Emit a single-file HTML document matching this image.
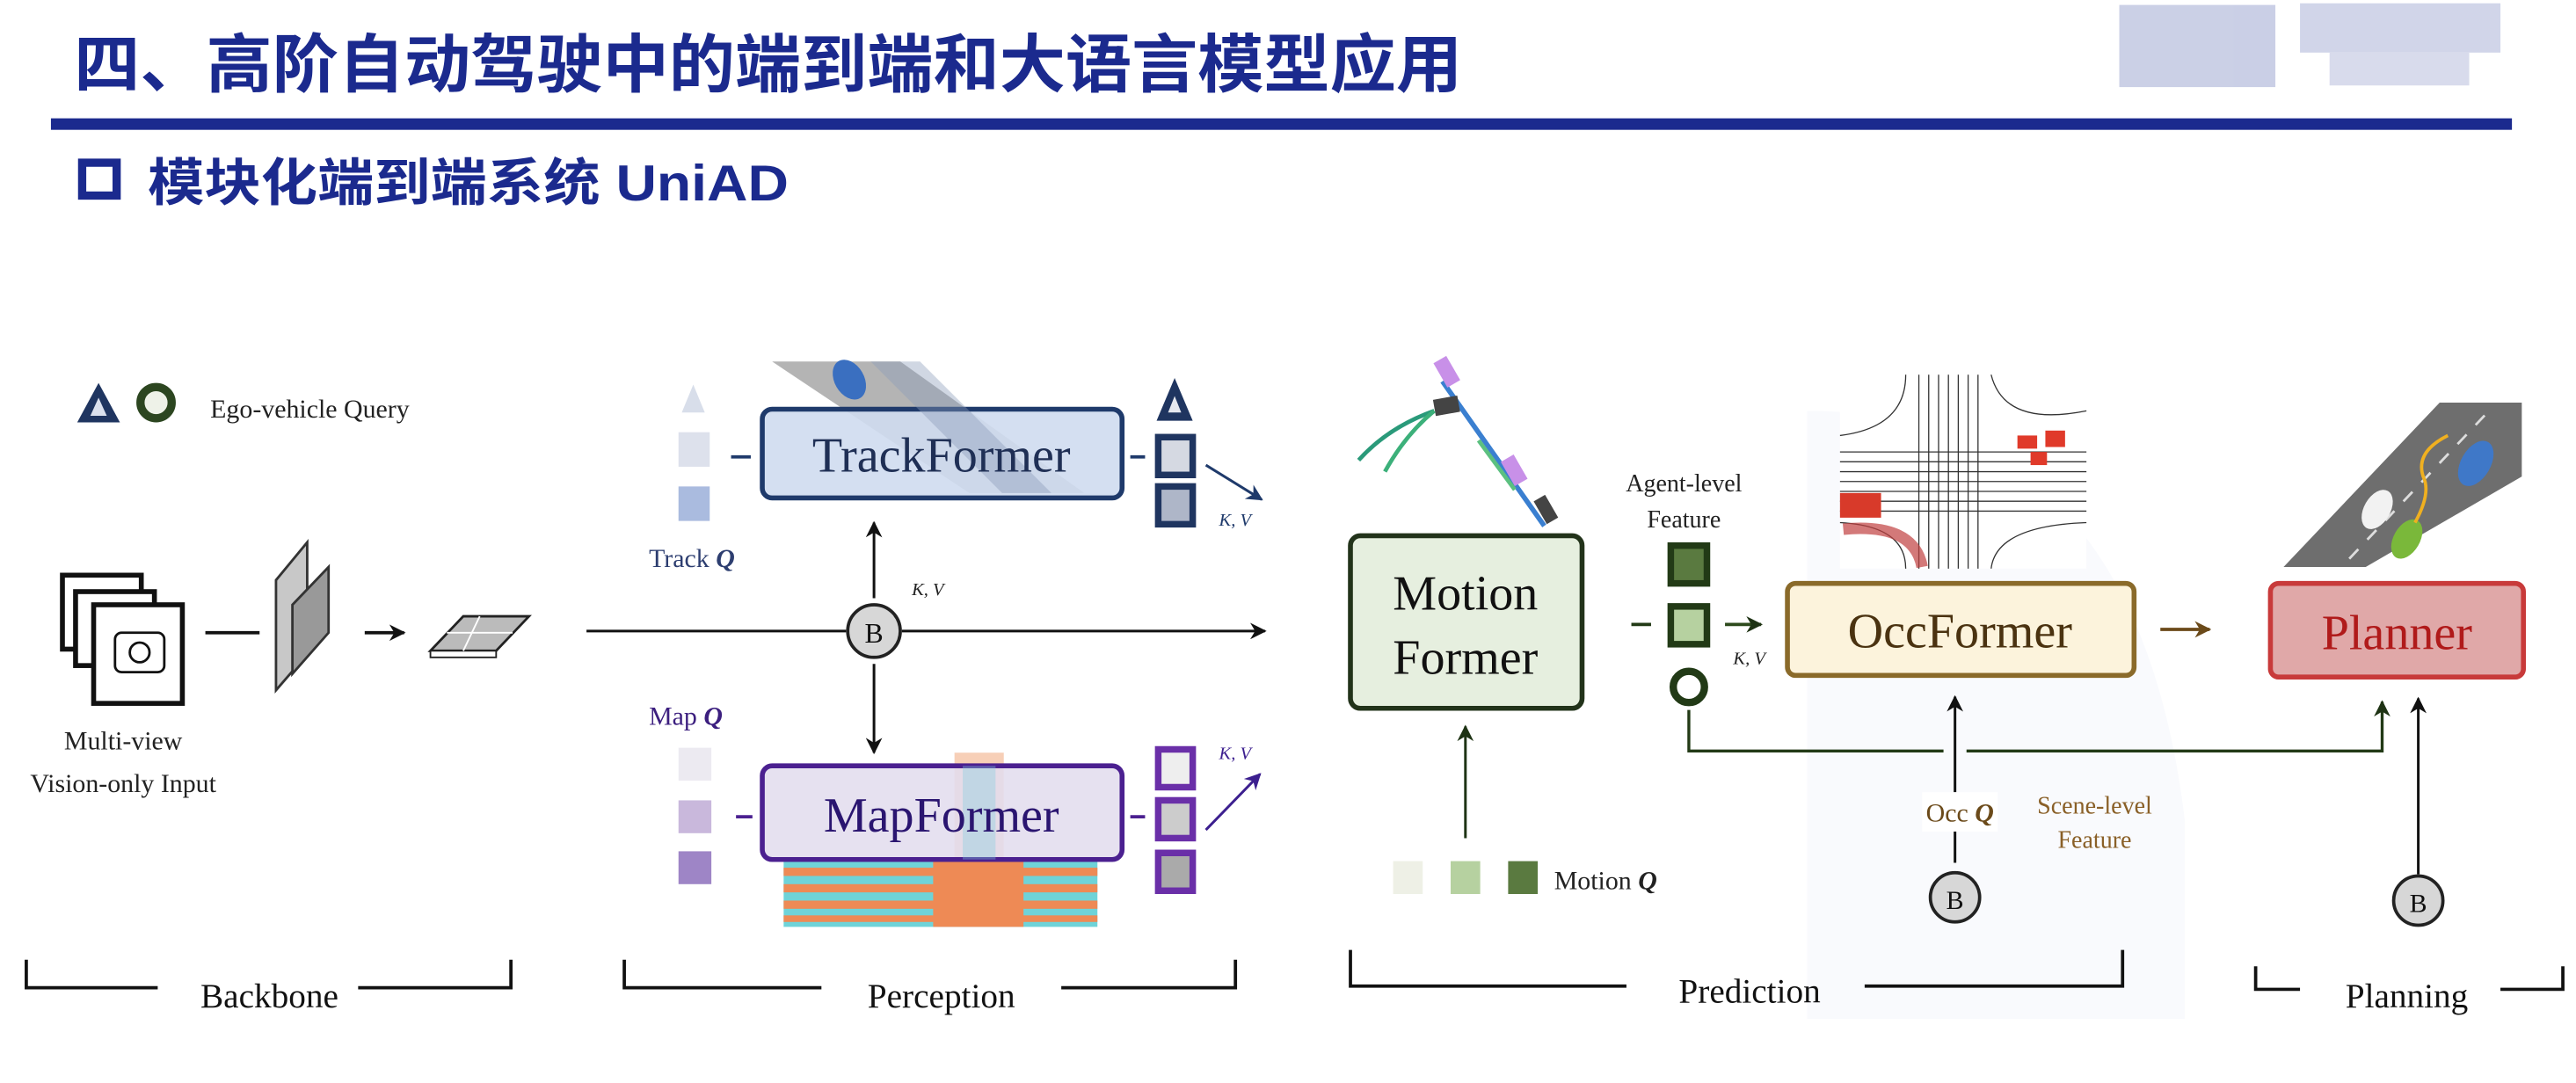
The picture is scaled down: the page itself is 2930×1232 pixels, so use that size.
<!DOCTYPE html>
<html><head><meta charset="utf-8"><style>
html,body{margin:0;padding:0;background:#fff;}
svg{display:block;}
.s{font-family:"Liberation Serif",serif;}
</style></head><body>
<svg width="2930" height="1232" viewBox="0 0 1568 659" preserveAspectRatio="none" xmlns="http://www.w3.org/2000/svg">
<defs>
<marker id="ab" markerWidth="10" markerHeight="10" refX="9" refY="5" orient="auto" markerUnits="userSpaceOnUse"><path d="M0,0 L10,5 L0,10 L3,5 Z" fill="#111"/></marker>
<marker id="an" markerWidth="10" markerHeight="10" refX="9" refY="5" orient="auto" markerUnits="userSpaceOnUse"><path d="M0,0 L10,5 L0,10 L3,5 Z" fill="#1f3a6b"/></marker>
<marker id="ap" markerWidth="10" markerHeight="10" refX="9" refY="5" orient="auto" markerUnits="userSpaceOnUse"><path d="M0,0 L10,5 L0,10 L3,5 Z" fill="#3c1f8f"/></marker>
<marker id="ag" markerWidth="10" markerHeight="10" refX="9" refY="5" orient="auto" markerUnits="userSpaceOnUse"><path d="M0,0 L10,5 L0,10 L3,5 Z" fill="#1e3314"/></marker>
<marker id="ao" markerWidth="10" markerHeight="10" refX="9" refY="5" orient="auto" markerUnits="userSpaceOnUse"><path d="M0,0 L10,5 L0,10 L3,5 Z" fill="#6b4a1a"/></marker>
</defs>
<!-- faint background shapes -->
<path d="M1100 250 Q1300 250 1330 500 L1330 620 L1100 620 Z" fill="#f9fafd"/>
<!-- header -->
<text x="45" y="53" font-family="'Liberation Sans','Noto Sans CJK SC',sans-serif" font-weight="bold" font-size="39" fill="#1b2a8e" textLength="845" lengthAdjust="spacingAndGlyphs">四、高阶自动驾驶中的端到端和大语言模型应用</text>
<g opacity="0.45">
<rect x="1290" y="3" width="95" height="50" fill="#8c96c8"/><rect x="1400" y="2" width="122" height="30" fill="#9aa3d0"/><rect x="1418" y="32" width="85" height="20" fill="#a9b0d6"/>
</g>
<rect x="31" y="72" width="1498" height="7" fill="#1b2a8e"/>
<rect x="50" y="99" width="21" height="20" fill="none" stroke="#1b2a8e" stroke-width="5"/>
<text x="90" y="122" font-family="'Liberation Sans','Noto Sans CJK SC',sans-serif" font-weight="bold" font-size="31" fill="#1b2a8e" textLength="390" lengthAdjust="spacingAndGlyphs">模块化端到端系统 UniAD</text>
<!-- ego query -->
<path d="M47 257 L60 233 L73 257 Z" fill="#1f3560"/><path d="M55 253 L60 242 L65 253 Z" fill="#dbe1ee"/>
<circle cx="95" cy="245" r="9.5" fill="#eef2e8" stroke="#2c4620" stroke-width="5"/>
<text x="128" y="254" class="s" font-size="16" fill="#222">Ego-vehicle Query</text>
<!-- camera stack -->
<rect x="38" y="350" width="48" height="45" fill="#fff" stroke="#111" stroke-width="3"/>
<rect x="46" y="360" width="48" height="45" fill="#fff" stroke="#111" stroke-width="3"/>
<rect x="57" y="368" width="54" height="60" fill="#fff" stroke="#111" stroke-width="3"/>
<rect x="70" y="385" width="30" height="24" rx="4" fill="none" stroke="#111" stroke-width="1.5"/>
<circle cx="85" cy="397" r="6" fill="none" stroke="#111" stroke-width="1.5"/>
<text x="75" y="456" class="s" font-size="16" fill="#222" text-anchor="middle">Multi-view</text>
<text x="75" y="482" class="s" font-size="16" fill="#222" text-anchor="middle">Vision-only Input</text>
<line x1="125" y1="385" x2="158" y2="385" stroke="#111" stroke-width="2"/>
<path d="M168 353 L187 330 L187 398 L168 420 Z" fill="#c8c8c8" stroke="#333" stroke-width="1.5"/>
<path d="M178 368 L200 345 L200 385 L178 410 Z" fill="#999" stroke="#333" stroke-width="1.5"/>
<line x1="222" y1="385" x2="246" y2="385" stroke="#111" stroke-width="2" marker-end="url(#ab)"/>
<path d="M262 396 L282 375 L322 375 L302 396 Z" fill="#bbb" stroke="#222" stroke-width="1.5"/>
<path d="M262 396 L302 396 L302 400 L262 400 Z" fill="#fff" stroke="#222" stroke-width="1"/>
<line x1="272" y1="385" x2="312" y2="385" stroke="#fff" stroke-width="1"/><line x1="292" y1="375" x2="282" y2="396" stroke="#fff" stroke-width="1"/>
<!-- main line -->
<line x1="357" y1="384" x2="515" y2="384" stroke="#111" stroke-width="1.6"/>
<line x1="549" y1="384" x2="770" y2="384" stroke="#111" stroke-width="1.6" marker-end="url(#ab)"/>
<circle cx="532" cy="384" r="16" fill="#d7d7d7" stroke="#222" stroke-width="2"/>
<text x="532" y="391" class="s" font-size="17" text-anchor="middle" fill="#111">B</text>
<line x1="532" y1="364" x2="532" y2="318" stroke="#111" stroke-width="1.6" marker-end="url(#ab)"/>
<line x1="532" y1="404" x2="532" y2="458" stroke="#111" stroke-width="1.6" marker-end="url(#ab)"/>
<text x="555" y="362" class="s" font-size="11" font-style="italic" fill="#222">K, V</text>
<!-- TrackFormer -->
<path d="M470 220 L548 220 L660 300 L590 300 Z" fill="#777" opacity="0.55"/>
<rect x="464" y="249" width="219" height="54" rx="6" fill="#cfdcef" fill-opacity="0.9" stroke="#1f3a6b" stroke-width="3"/>
<path d="M530 220 L560 220 L640 300 L610 300 Z" fill="#8a9ab8" opacity="0.4"/>
<ellipse cx="517" cy="231" rx="9" ry="13" fill="#3a6fc0" transform="rotate(-30 517 231)"/>
<text x="573" y="287" class="s" font-size="30" fill="#1f2f55" text-anchor="middle">TrackFormer</text>
<path d="M415 251 L422 234 L429 251 Z" fill="#d8deea"/>
<rect x="413" y="263" width="19" height="21" fill="#dde1ec"/>
<rect x="413" y="296" width="19" height="21" fill="#aabbdf"/>
<line x1="445" y1="278" x2="457" y2="278" stroke="#1f3a6b" stroke-width="2"/>
<path d="M704 256 L715 230 L726 256 Z" fill="#1f3560"/><path d="M711 251 L715 241 L719 251 Z" fill="#e5e8ef"/>
<rect x="705" y="266" width="21" height="23" fill="#d5d9e2" stroke="#1f3560" stroke-width="4"/>
<rect x="705" y="296" width="21" height="23" fill="#aeb6c8" stroke="#1f3560" stroke-width="4"/>
<line x1="688" y1="278" x2="697" y2="278" stroke="#1f3a6b" stroke-width="2"/>
<line x1="734" y1="283" x2="768" y2="304" stroke="#1f3a6b" stroke-width="1.6" marker-end="url(#an)"/>
<text x="742" y="320" class="s" font-size="11" font-style="italic" fill="#1f3a6b">K, V</text>
<text x="395" y="345" class="s" font-size="16" fill="#2d3e70">Track <tspan font-style="italic" font-weight="bold">Q</tspan></text>
<!-- MapFormer -->
<text x="395" y="441" class="s" font-size="16" fill="#3c1f7f">Map <tspan font-style="italic" font-weight="bold">Q</tspan></text>
<rect x="477" y="524" width="191" height="40" fill="#6fd3d8"/>
<g fill="#ee8a55">
<rect x="477" y="528" width="100" height="5"/><rect x="477" y="538" width="100" height="5"/><rect x="477" y="548" width="100" height="5"/><rect x="477" y="557" width="100" height="4"/>
<rect x="615" y="528" width="53" height="5"/><rect x="615" y="538" width="53" height="5"/><rect x="615" y="548" width="53" height="5"/><rect x="615" y="557" width="53" height="4"/>
<rect x="568" y="524" width="55" height="40"/>
</g>
<rect x="581" y="458" width="30" height="66" fill="#f0a070" opacity="0.5"/>
<rect x="464" y="466" width="219" height="57" rx="6" fill="#e2ddee" fill-opacity="0.88" stroke="#4b2090" stroke-width="3"/>
<rect x="586" y="466" width="20" height="57" fill="#7fcfe0" opacity="0.35"/>
<text x="573" y="506" class="s" font-size="30" fill="#2a1570" text-anchor="middle">MapFormer</text>
<rect x="413" y="455" width="20" height="20" fill="#eceaf1"/>
<rect x="413" y="487" width="20" height="20" fill="#c9b8dc"/>
<rect x="413" y="518" width="20" height="20" fill="#9e85c6"/>
<line x1="448" y1="497" x2="458" y2="497" stroke="#4b2090" stroke-width="2"/>
<rect x="705" y="456" width="21" height="23" fill="#eee" stroke="#6a2fa8" stroke-width="4"/>
<rect x="705" y="487" width="21" height="23" fill="#ccc" stroke="#6a2fa8" stroke-width="4"/>
<rect x="705" y="519" width="21" height="23" fill="#aaa" stroke="#6a2fa8" stroke-width="4"/>
<line x1="688" y1="497" x2="697" y2="497" stroke="#4b2090" stroke-width="2"/>
<line x1="734" y1="505" x2="767" y2="471" stroke="#3c1f8f" stroke-width="1.6" marker-end="url(#ap)"/>
<text x="742" y="462" class="s" font-size="11" font-style="italic" fill="#3c1f8f">K, V</text>
<!-- brackets -->
<g stroke="#111" stroke-width="2" fill="none">
<path d="M16 584 L16 601 L96 601"/><path d="M218 601 L311 601 L311 584"/>
<path d="M380 584 L380 601 L500 601"/><path d="M646 601 L752 601 L752 584"/>
<path d="M822 578 L822 600 L990 600"/><path d="M1135 600 L1292 600 L1292 578"/>
<path d="M1373 588 L1373 602 L1400 602"/><path d="M1522 602 L1560 602 L1560 588"/>
</g>
<text x="164" y="613" class="s" font-size="21" fill="#111" text-anchor="middle">Backbone</text>
<text x="573" y="613" class="s" font-size="21" fill="#111" text-anchor="middle">Perception</text>
<text x="1065" y="610" class="s" font-size="21" fill="#111" text-anchor="middle">Prediction</text>
<text x="1465" y="613" class="s" font-size="21" fill="#111" text-anchor="middle">Planning</text>
<!-- Motion trajectories -->
<path d="M878 232 L940 320" stroke="#3a7fd0" stroke-width="3" fill="none"/>
<rect x="876" y="218" width="9" height="17" fill="#c890e8" transform="rotate(-30 880 226)"/>
<rect x="917" y="278" width="9" height="17" fill="#c890e8" transform="rotate(-30 921 286)"/>
<rect x="937" y="302" width="8" height="16" fill="#444" transform="rotate(-30 941 310)"/>
<rect x="873" y="242" width="15" height="10" fill="#444" transform="rotate(-10 880 247)"/>
<path d="M873 250 Q845 260 827 280" stroke="#2a9a7a" stroke-width="2.5" fill="none"/>
<path d="M873 250 Q855 265 843 287" stroke="#3cb07a" stroke-width="2.5" fill="none"/>
<path d="M900 268 L922 298" stroke="#5cc080" stroke-width="2.5" fill="none"/>
<!-- Motion Former -->
<rect x="822" y="326" width="141" height="105" rx="6" fill="#e6efdf" stroke="#22331a" stroke-width="3"/>
<text x="892" y="371" class="s" font-size="30" fill="#111" text-anchor="middle">Motion</text>
<text x="892" y="410" class="s" font-size="30" fill="#111" text-anchor="middle">Former</text>
<line x1="892" y1="510" x2="892" y2="442" stroke="#1e3314" stroke-width="1.6" marker-end="url(#ag)"/>
<rect x="848" y="524" width="18" height="20" fill="#eef0e6"/>
<rect x="883" y="524" width="18" height="20" fill="#b6d1a0"/>
<rect x="918" y="524" width="18" height="20" fill="#5a7a40"/>
<text x="946" y="541" class="s" font-size="16" fill="#222">Motion <tspan font-style="italic" font-weight="bold">Q</tspan></text>
<text x="1025" y="299" class="s" font-size="15" fill="#222" text-anchor="middle">Agent-level</text>
<text x="1025" y="321" class="s" font-size="15" fill="#222" text-anchor="middle">Feature</text>
<rect x="1017" y="332" width="22" height="23" fill="#5a7a40" stroke="#223a16" stroke-width="4"/>
<rect x="1017" y="369" width="22" height="23" fill="#b6d1a0" stroke="#223a16" stroke-width="4"/>
<circle cx="1028" cy="418" r="9.5" fill="#fff" stroke="#223a16" stroke-width="4.5"/>
<line x1="993" y1="380" x2="1005" y2="380" stroke="#223a16" stroke-width="2"/>
<line x1="1050" y1="380" x2="1072" y2="380" stroke="#2d4a1c" stroke-width="2" marker-end="url(#ag)"/>
<text x="1055" y="404" class="s" font-size="11" font-style="italic" fill="#222">K, V</text>
<!-- occ image -->
<rect x="1120" y="228" width="150" height="118" fill="#fff"/>
<g stroke="#333" stroke-width="0.7" fill="none">
<path d="M1168 228 L1168 346 M1174 228 L1174 346 M1180 228 L1180 346 M1186 228 L1186 346 M1192 228 L1192 346 M1198 228 L1198 346 M1204 228 L1204 346"/>
<path d="M1120 275 L1270 275 M1120 281 L1270 281 M1120 287 L1270 287 M1120 293 L1270 293 M1120 299 L1270 299 M1120 305 L1270 305 M1120 311 L1270 311"/>
<path d="M1160 228 Q1160 260 1120 265 M1212 228 Q1220 260 1270 250 M1160 346 Q1160 320 1120 318 M1212 346 Q1215 320 1270 318"/>
</g>
<rect x="1228" y="265" width="12" height="8" fill="#e03a2a"/><rect x="1245" y="262" width="12" height="10" fill="#e03a2a"/><rect x="1236" y="275" width="10" height="8" fill="#e03a2a"/>
<rect x="1120" y="300" width="25" height="15" fill="#d83a2a"/>
<path d="M1122 322 Q1165 318 1170 345" stroke="#c04040" stroke-width="7" fill="none" opacity="0.7"/>
<!-- OccFormer -->
<rect x="1088" y="355" width="211" height="56" rx="5" fill="#fcf3dc" stroke="#8a6a2a" stroke-width="3"/>
<text x="1193" y="394" class="s" font-size="30" fill="#4a3210" text-anchor="middle">OccFormer</text>
<line x1="1315" y1="383" x2="1345" y2="383" stroke="#6b4a1a" stroke-width="2" marker-end="url(#ao)"/>
<!-- car road -->
<path d="M1390 345 L1485 245 L1535 245 L1535 290 L1440 345 Z" fill="#6e6e6e"/>
<path d="M1430 340 L1515 250" stroke="#ddd" stroke-width="1.5" stroke-dasharray="8 8"/>
<ellipse cx="1507" cy="282" rx="9" ry="15" fill="#3f78c8" transform="rotate(30 1507 282)"/>
<ellipse cx="1447" cy="310" rx="8" ry="13" fill="#f2f2f2" transform="rotate(30 1447 310)"/>
<ellipse cx="1465" cy="328" rx="8" ry="13" fill="#7ab83a" transform="rotate(30 1465 328)"/>
<path d="M1470 318 Q1480 300 1475 290 Q1470 275 1490 265" stroke="#f0b020" stroke-width="2" fill="none"/>
<!-- Planner -->
<rect x="1382" y="355" width="154" height="57" rx="5" fill="#e0a8a8" stroke="#c83a3a" stroke-width="3"/>
<text x="1459" y="395" class="s" font-size="30" fill="#b01a1a" text-anchor="middle">Planner</text>
<!-- feedback lines -->
<path d="M1028 432 L1028 457 L1183 457" stroke="#223a16" stroke-width="1.8" fill="none"/>
<path d="M1197 457 L1450 457 L1450 427" stroke="#223a16" stroke-width="1.8" fill="none" marker-end="url(#ag)"/>
<line x1="1190" y1="525" x2="1190" y2="424" stroke="#111" stroke-width="1.6" marker-end="url(#ab)"/>
<rect x="1170" y="482" width="46" height="24" fill="#fff"/>
<text x="1193" y="500" class="s" font-size="16" fill="#6b4a1a" text-anchor="middle">Occ <tspan font-style="italic" font-weight="bold">Q</tspan></text>
<text x="1275" y="495" class="s" font-size="15" fill="#8a6028" text-anchor="middle">Scene-level</text>
<text x="1275" y="516" class="s" font-size="15" fill="#8a6028" text-anchor="middle">Feature</text>
<circle cx="1190" cy="546" r="15" fill="#d7d7d7" stroke="#222" stroke-width="2"/>
<text x="1190" y="553" class="s" font-size="16" text-anchor="middle" fill="#111">B</text>
<line x1="1472" y1="532" x2="1472" y2="425" stroke="#111" stroke-width="1.6" marker-end="url(#ab)"/>
<circle cx="1472" cy="548" r="15" fill="#d7d7d7" stroke="#222" stroke-width="2"/>
<text x="1472" y="555" class="s" font-size="16" text-anchor="middle" fill="#111">B</text>
</svg>
</body></html>
